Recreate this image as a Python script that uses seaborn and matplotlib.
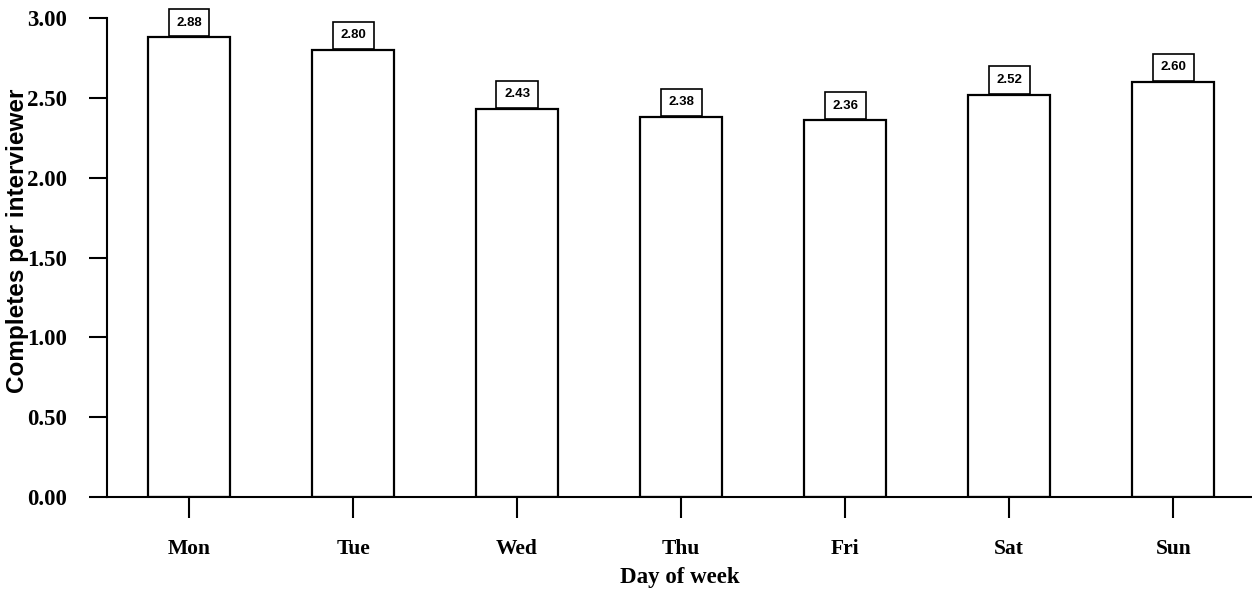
import matplotlib
matplotlib.use("Agg")
import matplotlib.pyplot as plt
import seaborn as sns
import pandas as pd

days = ["Mon", "Tue", "Wed", "Thu", "Fri", "Sat", "Sun"]
values = [2.88, 2.80, 2.43, 2.38, 2.36, 2.52, 2.60]
value_labels = ["2.88", "2.80", "2.43", "2.38", "2.36", "2.52", "2.60"]
yticks = [0.0, 0.5, 1.0, 1.5, 2.0, 2.5, 3.0]
ytick_labels = ["0.00", "0.50", "1.00", "1.50", "2.00", "2.50", "3.00"]

sns.set_theme(style="white")
plt.rcParams['font.family'] = ['Liberation Serif', 'DejaVu Serif']
plt.rcParams['text.color'] = 'black'
plt.rcParams['axes.labelcolor'] = 'black'
plt.rcParams['xtick.color'] = 'black'
plt.rcParams['ytick.color'] = 'black'

df = pd.DataFrame({"day": days, "value": values})

fig = plt.figure(figsize=(12.52, 5.90), dpi=100)
ax = fig.add_axes([107/1252, 1 - 497/590, 1145/1252, (497-18)/590])

sns.barplot(data=df, x="day", y="value", order=days, color="white",
            edgecolor="black", linewidth=1.6, width=0.5, ax=ax,
            saturation=1, errorbar=None)

fs = 9.5
ax.bar_label(ax.containers[0], labels=value_labels, padding=0.55*fs + 1,
             fontsize=fs, fontweight="bold", family=["Liberation Sans"], color="black",
             bbox=dict(boxstyle="square,pad=0.58", fc="white", ec="black", lw=1.2))

ax.set_xlim(-0.5, 6.48)
ax.set_ylim(0, 3.0)
ax.set_yticks(yticks)
ax.set_yticklabels(ytick_labels, fontsize=16.5, fontweight="bold")
ax.set_xticks(range(len(days)))
ax.set_xticklabels(days, fontsize=15.5, fontweight="bold")
ax.tick_params(axis="y", direction="out", length=13, width=1.5, pad=16, left=True,
               colors="black")
ax.tick_params(axis="x", direction="out", length=15, width=1.5, pad=15, bottom=True,
               colors="black")

for s in ["top", "right"]:
    ax.spines[s].set_visible(False)
for s in ["left", "bottom"]:
    ax.spines[s].set_color("black")
    ax.spines[s].set_linewidth(1.5)

ax.set_xlabel("Day of week", fontsize=16.5, fontweight="bold", labelpad=6, color="black")
ax.set_ylabel("Completes per interviewer", fontsize=17.5, fontweight="bold",
              family=["Liberation Sans"], color="black")
ax.yaxis.set_label_coords(-0.068, 0.535)

fig.savefig("out.png", dpi=100, facecolor="white")
